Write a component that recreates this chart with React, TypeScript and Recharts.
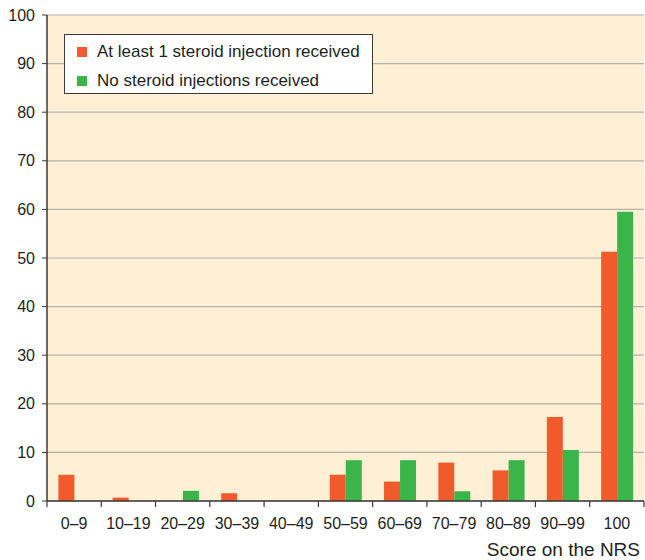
import React from 'react';
import { BarChart, Bar, XAxis, YAxis, CartesianGrid, Legend } from 'recharts';

const categories = ['0–9', '10–19', '20–29', '30–39', '40–49', '50–59', '60–69', '70–79', '80–89', '90–99', '100'];
const steroidValues = [5.4, 0.7, 0, 1.6, 0, 5.4, 4.0, 7.9, 6.3, 17.3, 51.3];
const noSteroidValues = [0, 0, 2.1, 0, 0, 8.4, 8.4, 2.0, 8.4, 10.5, 59.5];
const yTicks = [0, 10, 20, 30, 40, 50, 60, 70, 80, 90, 100];
const seriesNames = ['At least 1 steroid injection received', 'No steroid injections received'];

const ORANGE = '#F15A2B';
const GREEN = '#3BB54A';
const BG = '#FEF0D4';
const DARK = '#3a3a3a';
const TEXT = '#231f20';
const FONT = '"Liberation Sans", Arial, Helvetica, sans-serif';

const W = 645;
const H = 560;
const M = { top: 15, right: 1, left: 8, bottom: 0 };
const Y_W = 39;
const X_H = 59;
const PLOT_W = W - M.left - M.right - Y_W;
const AXIS_Y = H - M.bottom - X_H;
const STEP = PLOT_W / categories.length;

const data = categories.map((c, i) => ({ cat: c, steroid: steroidValues[i], none: noSteroidValues[i] }));

const XTick = (props: any) => {
  const { x, payload, index } = props;
  const last = index === categories.length - 1;
  return (
    <g>
      <line x1={x - STEP / 2} x2={x - STEP / 2} y1={AXIS_Y} y2={AXIS_Y + 6} stroke={DARK} strokeWidth={1.2} />
      {last && <line x1={x + STEP / 2} x2={x + STEP / 2} y1={AXIS_Y} y2={AXIS_Y + 6} stroke={DARK} strokeWidth={1.2} />}
      <text x={x} y={AXIS_Y + 28} textAnchor="middle" fontSize={16} fill={TEXT} fontFamily={FONT}>
        {payload.value}
      </text>
    </g>
  );
};

const LegendBox = () => (
  <div
    style={{
      width: 307,
      height: 58,
      border: `1px solid ${DARK}`,
      background: '#ffffff',
      fontFamily: FONT,
      fontSize: 17,
      color: TEXT,
      position: 'relative',
    }}
  >
    {seriesNames.map((n, i) => (
      <div key={n} style={{ position: 'absolute', left: 12, top: 7 + i * 28.5, display: 'flex', alignItems: 'center', whiteSpace: 'nowrap' }}>
        <span style={{ display: 'inline-block', width: 10, height: 10, background: i === 0 ? ORANGE : GREEN, marginRight: 10 }} />
        <span style={{ lineHeight: '20px' }}>{n}</span>
      </div>
    ))}
  </div>
);

export default function App() {
  return (
    <div style={{ width: W, height: H, position: 'fixed', left: 0, top: 0, background: '#ffffff' }}>
      <BarChart width={W} height={H} data={data} margin={M} barCategoryGap="21%" barGap={0}>
        <CartesianGrid vertical={false} stroke="#b5b2ab" strokeWidth={1.2} fill={BG} />
        <XAxis
          dataKey="cat"
          height={X_H}
          interval={0}
          axisLine={{ stroke: DARK, strokeWidth: 1.5 }}
          tickLine={false}
          tick={<XTick />}
          label={{ value: 'Score on the NRS', position: 'insideBottomRight', offset: 4, fontSize: 19, fill: TEXT, fontFamily: FONT }}
        />
        <XAxis xAxisId="top" dataKey="cat" orientation="top" height={0} tick={false} tickLine={false} axisLine={{ stroke: DARK, strokeWidth: 1.5 }} />
        <YAxis
          width={Y_W}
          domain={[0, 100]}
          ticks={yTicks}
          interval={0}
          tickSize={5}
          tickMargin={7}
          axisLine={{ stroke: DARK, strokeWidth: 1.5 }}
          tickLine={{ stroke: DARK }}
          tick={{ fontSize: 16, fill: TEXT, fontFamily: FONT }}
        />
        <YAxis yAxisId="r" orientation="right" width={0} domain={[0, 100]} tick={false} tickLine={false} axisLine={{ stroke: DARK, strokeWidth: 1.5 }} />
        <Legend
          layout="vertical"
          align="center"
          verticalAlign="middle"
          content={() => <LegendBox />}
          wrapperStyle={{ top: 34, left: 64, width: 309, height: 60 }}
        />
        <Bar dataKey="steroid" name={seriesNames[0]} fill={ORANGE} isAnimationActive={false} />
        <Bar dataKey="none" name={seriesNames[1]} fill={GREEN} isAnimationActive={false} />
      </BarChart>
    </div>
  );
}
